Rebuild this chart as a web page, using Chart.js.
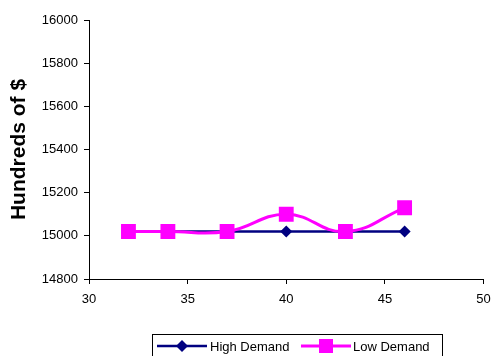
<!DOCTYPE html>
<html>
<head>
<meta charset="utf-8">
<script src="https://cdn.jsdelivr.net/npm/chart.js@4/dist/chart.umd.min.js"></script>
<style>
  html, body { margin: 0; padding: 0; background: #fff; }
  #wrap { width: 494px; height: 356px; position: relative; }
</style>
</head>
<body>
<div id="wrap"><canvas id="c" width="494" height="356"></canvas></div>
<script>
const xValues = [32, 34, 37, 40, 43, 46];
const highDemand = [15020, 15020, 15020, 15020, 15020, 15020];
const lowDemand = [15020, 15020, 15020, 15100, 15020, 15130];
const seriesNames = ['High Demand', 'Low Demand'];
const yAxisTitle = 'Hundreds of $';

const NAVY = '#000080';
const MAGENTA = '#FF00FF';
const FONT = "'Liberation Sans', Arial, sans-serif";

function pts(ys) { return xValues.map((x, i) => ({ x: x, y: ys[i] })); }

const legendPlugin = {
  id: 'customLegend',
  afterDraw(chart) {
    const ctx = chart.ctx;
    ctx.save();
    ctx.strokeStyle = '#000';
    ctx.lineWidth = 1;
    ctx.strokeRect(152.5, 334.5, 290, 24);
    const cy = 346;
    const items = [
      { x0: 157, x1: 207, mx: 182, color: NAVY, style: 'rectRot', r: 6, lw: 2.5, tx: 210, text: seriesNames[0] },
      { x0: 301, x1: 351, mx: 326, color: MAGENTA, style: 'rect', r: 7, lw: 3, tx: 353, text: seriesNames[1] }
    ];
    items.forEach(it => {
      ctx.strokeStyle = it.color;
      ctx.lineWidth = it.lw;
      ctx.beginPath();
      ctx.moveTo(it.x0, cy);
      ctx.lineTo(it.x1, cy);
      ctx.stroke();
      ctx.fillStyle = it.color;
      ctx.beginPath();
      if (it.style === 'rect') {
        ctx.rect(it.mx - it.r, cy - it.r, it.r * 2, it.r * 2);
      } else {
        ctx.moveTo(it.mx - it.r, cy);
        ctx.lineTo(it.mx, cy - it.r);
        ctx.lineTo(it.mx + it.r, cy);
        ctx.lineTo(it.mx, cy + it.r);
        ctx.closePath();
      }
      ctx.fill();
      ctx.fillStyle = '#000';
      ctx.font = '13px ' + FONT;
      ctx.textBaseline = 'middle';
      ctx.textAlign = 'left';
      ctx.fillText(it.text, it.tx, cy + 1);
    });
    ctx.restore();
  }
};

new Chart(document.getElementById('c'), {
  type: 'line',
  data: {
    datasets: [
      {
        label: seriesNames[0],
        data: pts(highDemand),
        borderColor: NAVY,
        backgroundColor: NAVY,
        borderWidth: 2.5,
        pointStyle: 'rectRot',
        pointRadius: 6,
        pointBorderWidth: 0,
        tension: 0,
        order: 2
      },
      {
        label: seriesNames[1],
        data: pts(lowDemand),
        borderColor: MAGENTA,
        backgroundColor: MAGENTA,
        borderWidth: 3,
        pointStyle: 'rect',
        pointRadius: 10.5,
        pointBorderWidth: 0,
        tension: 0.45,
        order: 1
      }
    ]
  },
  options: {
    responsive: false,
    animation: false,
    devicePixelRatio: 1,
    layout: { padding: { left: 0, right: 9, top: 20, bottom: 47 } },
    plugins: {
      legend: { display: false },
      tooltip: { enabled: false }
    },
    scales: {
      x: {
        type: 'linear',
        min: 30,
        max: 50,
        ticks: { stepSize: 5, color: '#000', font: { family: FONT, size: 13 }, padding: 8, maxRotation: 0,
                 callback: v => String(v) },
        grid: { drawOnChartArea: false, tickLength: 5, color: '#000', tickColor: '#000' },
        border: { color: '#000', width: 1 },
        afterFit(s) { s.height = 30; s.paddingRight = 5; s.paddingLeft = 5; }
      },
      y: {
        type: 'linear',
        min: 14800,
        max: 16000,
        ticks: { stepSize: 200, color: '#000', font: { family: FONT, size: 13 }, padding: 6,
                 callback: v => String(v) },
        grid: { drawOnChartArea: false, tickLength: 5, color: '#000', tickColor: '#000' },
        border: { color: '#000', width: 1 },
        title: {
          display: true,
          text: yAxisTitle,
          color: '#000',
          font: { family: FONT, size: 21, weight: 'bold' },
          padding: { top: 7, bottom: 0 }
        },
        afterFit(s) { s.width = 89; }
      }
    }
  },
  plugins: [legendPlugin]
});
</script>
</body>
</html>
